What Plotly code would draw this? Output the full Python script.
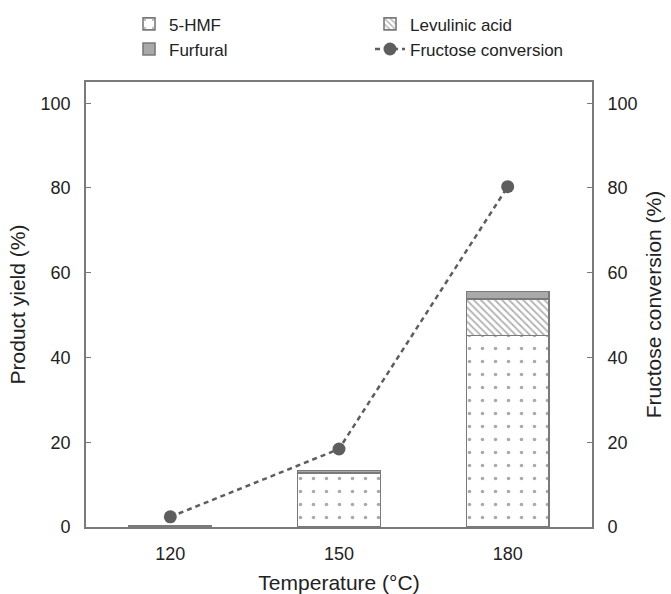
import plotly.graph_objects as go

temperatures = ["120", "150", "180"]
hmf_yield = [0.0, 12.8, 45.2]
levulinic_yield = [0.0, 0.0, 8.6]
furfural_yield = [0.4, 0.5, 1.8]
fructose_conversion = [2.4, 18.4, 80.3]
y_ticks = [0, 20, 40, 60, 80, 100]

FONT = "Liberation Sans, Arial, sans-serif"
AX = "#7a7a7a"
LINE = "#5e5e5e"

fig = go.Figure()
fig.add_trace(go.Bar(
    x=temperatures, y=hmf_yield, name="5-HMF", width=0.49,
    marker=dict(color="white", line=dict(color=AX, width=1.6),
                pattern=dict(shape=".", fgcolor="#555555", bgcolor="white", size=13, solidity=0.06)),
))
fig.add_trace(go.Bar(
    x=temperatures, y=levulinic_yield, name="Levulinic acid", width=0.49,
    marker=dict(color="white", line=dict(color=AX, width=1.6),
                pattern=dict(shape="\\", fgcolor="#666666", bgcolor="white", size=5, solidity=0.35)),
))
fig.add_trace(go.Bar(
    x=temperatures, y=furfural_yield, name="Furfural", width=0.49,
    marker=dict(color="#a9a9a9", line=dict(color=AX, width=1.6)),
))
fig.add_trace(go.Scatter(
    x=temperatures, y=fructose_conversion, name="Fructose conversion", yaxis="y2",
    mode="lines+markers",
    line=dict(color=LINE, width=2.5, dash="5px,4px"),
    marker=dict(color=LINE, size=13),
))

fig.update_layout(
    width=671, height=594,
    margin=dict(l=86, r=79, t=82, b=67, autoexpand=False),
    paper_bgcolor="white", plot_bgcolor="white",
    barmode="stack",
    font=dict(family=FONT, size=17, color="#222222"),
    legend=dict(orientation="h", x=0.085, xanchor="left", y=1.17, yanchor="top",
                entrywidth=196, entrywidthmode="pixels", traceorder="normal",
                font=dict(size=17), bgcolor="rgba(0,0,0,0)"),
    xaxis=dict(type="category", range=[-0.5, 2.5], showline=True, linecolor=AX, linewidth=1.6,
               mirror=True, ticks="", showgrid=False, ticklabelstandoff=10,
               tickfont=dict(size=18),
               title=dict(text="Temperature (°C)", font=dict(size=21), standoff=14)),
    yaxis=dict(range=[0, 105], tickvals=y_ticks, showline=True, linecolor=AX, linewidth=1.6,
               ticks="inside", ticklen=5, tickcolor=AX, showgrid=False, zeroline=False,
               ticklabelstandoff=10, tickfont=dict(size=18),
               title=dict(text="Product yield (%)", font=dict(size=21), standoff=9)),
    yaxis2=dict(range=[0, 105], tickvals=y_ticks, overlaying="y", side="right",
                showline=True, linecolor=AX, linewidth=1.6,
                ticks="inside", ticklen=5, tickcolor=AX, showgrid=False, zeroline=False,
                ticklabelstandoff=10, tickfont=dict(size=18),
                title=dict(text="Fructose conversion (%)", font=dict(size=21), standoff=10)),
)

fig.write_html("out.html")
